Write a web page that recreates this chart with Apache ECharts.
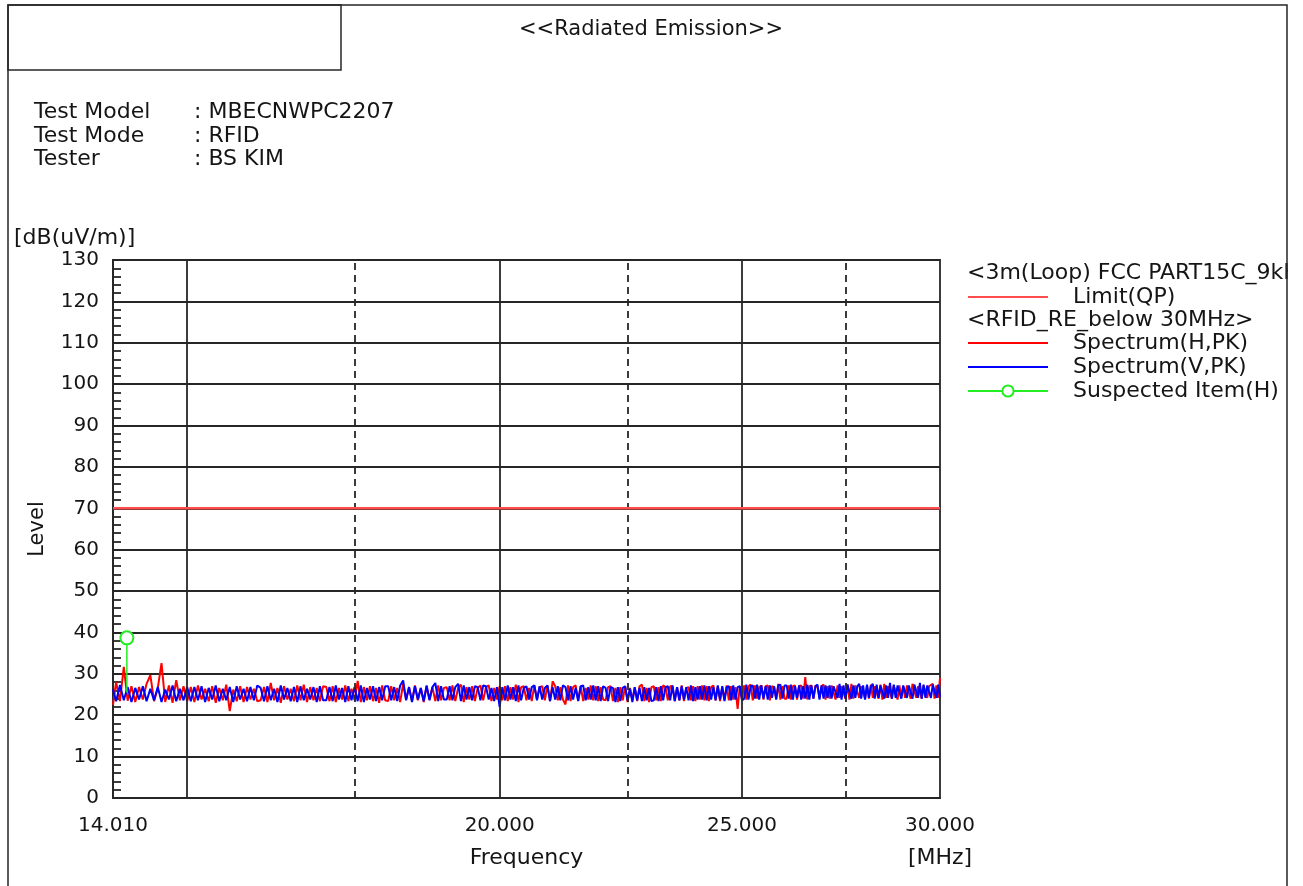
<!DOCTYPE html>
<html>
<head>
<meta charset="utf-8">
<script src="https://cdn.jsdelivr.net/npm/echarts@6/dist/echarts.min.js"></script>
<style>
html, body { margin: 0; padding: 0; background: #fff; }
#main { width: 1303px; height: 886px; }
</style>
</head>
<body>
<div id="main"></div>
<script>
// sweep frequencies [MHz]
const freqMHz = [
  14.01,14.05,14.10,14.15,14.20,14.25,14.30,14.35,14.40,14.45,14.50,14.55,14.60,14.65,14.70,14.75,14.80,14.85,14.90,14.95,15.00,
  15.05,15.10,15.15,15.20,15.25,15.30,15.35,15.40,15.45,15.50,15.55,15.60,15.65,15.70,15.75,15.80,15.85,15.90,15.95,16.00,
  16.05,16.10,16.15,16.20,16.25,16.30,16.35,16.40,16.45,16.50,16.55,16.60,16.65,16.70,16.75,16.80,16.85,16.90,16.95,17.00,
  17.05,17.10,17.15,17.20,17.25,17.30,17.35,17.40,17.45,17.50,17.55,17.60,17.65,17.70,17.75,17.80,17.85,17.90,17.95,18.00,
  18.05,18.10,18.15,18.20,18.25,18.30,18.35,18.40,18.45,18.50,18.55,18.60,18.65,18.70,18.75,18.80,18.85,18.90,18.95,19.00,
  19.05,19.10,19.15,19.20,19.25,19.30,19.35,19.40,19.45,19.50,19.55,19.60,19.65,19.70,19.75,19.80,19.85,19.90,19.95,20.00,
  20.05,20.10,20.15,20.20,20.25,20.30,20.35,20.40,20.45,20.50,20.55,20.60,20.65,20.70,20.75,20.80,20.85,20.90,20.95,21.00,
  21.05,21.10,21.15,21.20,21.25,21.30,21.35,21.40,21.45,21.50,21.55,21.60,21.65,21.70,21.75,21.80,21.85,21.90,21.95,22.00,
  22.05,22.10,22.15,22.20,22.25,22.30,22.35,22.40,22.45,22.50,22.55,22.60,22.65,22.70,22.75,22.80,22.85,22.90,22.95,23.00,
  23.05,23.10,23.15,23.20,23.25,23.30,23.35,23.40,23.45,23.50,23.55,23.60,23.65,23.70,23.75,23.80,23.85,23.90,23.95,24.00,
  24.05,24.10,24.15,24.20,24.25,24.30,24.35,24.40,24.45,24.50,24.55,24.60,24.65,24.70,24.75,24.80,24.85,24.90,24.95,25.00,
  25.05,25.10,25.15,25.20,25.25,25.30,25.35,25.40,25.45,25.50,25.55,25.60,25.65,25.70,25.75,25.80,25.85,25.90,25.95,26.00,
  26.05,26.10,26.15,26.20,26.25,26.30,26.35,26.40,26.45,26.50,26.55,26.60,26.65,26.70,26.75,26.80,26.85,26.90,26.95,27.00,
  27.05,27.10,27.15,27.20,27.25,27.30,27.35,27.40,27.45,27.50,27.55,27.60,27.65,27.70,27.75,27.80,27.85,27.90,27.95,28.00,
  28.05,28.10,28.15,28.20,28.25,28.30,28.35,28.40,28.45,28.50,28.55,28.60,28.65,28.70,28.75,28.80,28.85,28.90,28.95,29.00,
  29.05,29.10,29.15,29.20,29.25,29.30,29.35,29.40,29.45,29.50,29.55,29.60,29.65,29.70,29.75,29.80,29.85,29.90,29.95,30.00
];

// Spectrum(H,PK) [dB(uV/m)]
const levelH = [
  22.5,28.0,23.4,31.7,23.5,27.0,23.2,26.8,23.8,27.6,29.7,23.4,26.6,32.6,23.2,27.2,23.0,28.5,23.6,27.0,23.4,
  26.8,23.2,27.2,23.8,26.4,23.4,27.0,23.0,26.6,23.6,27.4,21.0,26.2,23.4,27.0,23.2,26.8,23.8,26.4,23.4,
  23.6,26.8,23.2,27.8,23.6,26.6,23.0,27.0,23.8,26.4,23.4,27.2,23.6,27.4,23.2,26.8,23.6,26.6,23.4,27.0,
  26.8,23.4,27.0,23.2,26.6,23.8,27.2,23.4,26.4,23.6,28.3,23.2,26.8,23.6,27.0,23.4,26.6,23.0,27.2,23.6,
  23.4,27.0,23.6,26.6,23.2,27.6,23.8,26.8,23.4,27.2,23.6,26.6,23.2,27.0,23.8,26.8,23.4,27.2,23.6,26.6,
  26.8,23.6,27.2,23.4,26.6,27.4,23.2,26.8,23.8,27.0,23.4,26.6,27.2,23.6,26.8,27.2,23.4,26.6,23.8,27.0,
  23.6,27.0,23.4,26.8,23.8,27.4,23.2,26.8,27.0,23.6,26.6,23.4,27.2,23.8,26.8,27.0,23.6,27.2,23.4,28.2,
  27.0,23.6,26.8,23.8,22.6,27.2,23.4,26.8,27.2,23.6,27.0,23.4,26.6,23.8,27.2,23.6,27.0,23.4,26.8,23.8,
  23.6,26.8,27.0,23.4,26.6,23.2,26.8,23.6,27.0,23.2,26.6,23.6,26.8,23.4,27.0,27.4,23.4,26.6,23.2,26.8,
  27.0,23.6,26.8,23.4,27.2,26.8,23.6,27.0,27.0,23.4,26.8,23.6,27.2,23.4,26.6,26.8,23.6,27.0,23.4,27.0,
  23.8,27.2,23.6,27.0,23.4,26.8,27.2,23.6,27.0,23.4,26.8,23.8,27.2,23.6,27.0,23.8,26.8,21.5,27.0,23.8,
  27.2,23.8,27.0,27.4,23.6,27.2,24.0,26.8,27.2,23.8,27.0,27.2,23.6,27.0,26.8,24.0,27.6,23.8,27.0,24.0,
  24.0,27.2,23.8,27.0,27.2,23.8,27.0,27.2,24.0,29.2,23.8,27.0,27.2,24.0,27.2,26.8,24.2,27.0,27.4,23.8,
  27.0,24.0,27.2,27.4,23.8,27.2,24.2,27.0,27.2,24.0,27.4,23.8,27.6,24.0,27.2,26.8,24.2,27.0,27.4,24.0,
  27.2,24.0,27.4,24.2,27.0,27.2,24.0,27.4,23.8,27.6,24.2,27.0,27.4,24.0,27.2,27.4,23.8,27.2,24.2,27.0,
  24.2,27.2,27.4,24.0,27.6,27.2,24.2,27.0,27.4,24.0,27.2,27.6,24.2,27.0,27.4,27.6,24.0,27.2,24.2,29.0
];

// Spectrum(V,PK) [dB(uV/m)]
const levelV = [
  26.2,23.4,27.3,23.6,26.8,23.2,26.6,23.8,27.0,23.4,26.4,23.6,26.8,23.2,26.2,23.8,27.2,23.4,26.4,23.6,26.8,
  23.4,26.8,23.6,27.0,23.2,26.6,23.8,27.2,23.4,26.4,23.6,26.8,23.2,27.0,23.8,26.4,23.4,26.8,23.6,27.2,
  26.6,23.4,27.0,23.6,26.4,23.2,27.2,23.8,26.6,23.4,26.8,23.2,27.0,23.6,26.4,23.8,26.8,23.2,27.0,23.6,
  23.6,26.8,23.4,27.2,23.8,26.6,23.2,27.0,23.6,26.8,23.4,27.2,23.2,26.6,23.8,27.0,23.4,26.8,23.6,27.0,
  27.0,23.6,26.8,23.4,27.2,28.4,23.6,26.8,23.2,27.0,23.8,26.6,23.4,27.2,23.6,26.8,27.8,23.4,27.0,23.8,
  23.8,27.0,23.6,26.8,27.6,23.4,27.2,23.8,26.8,23.6,27.0,26.8,23.6,27.2,27.0,23.8,26.6,23.4,26.8,22.0,
  26.8,23.6,27.2,23.8,26.8,23.4,27.2,23.6,26.6,27.0,23.8,26.8,27.2,23.6,27.0,23.8,26.6,27.2,23.4,26.8,
  23.8,27.0,23.6,27.2,26.8,23.6,27.0,23.8,26.6,23.4,27.0,27.2,23.6,26.8,23.8,27.2,23.6,27.0,23.4,27.0,
  26.6,23.4,26.8,26.6,23.2,26.8,23.4,26.6,27.0,23.6,26.4,23.2,26.8,23.6,26.6,23.4,26.8,23.6,26.6,23.4,
  23.6,26.8,23.4,27.0,23.6,26.8,27.0,23.6,27.2,23.4,26.8,23.6,27.0,23.8,26.8,23.6,27.2,23.4,26.8,23.8,
  27.0,23.8,27.2,23.6,27.0,23.8,26.8,23.6,27.2,23.8,27.0,23.4,26.8,27.0,23.6,27.2,23.8,26.8,27.0,23.6,
  24.0,27.4,23.8,27.0,27.2,24.0,27.4,23.8,27.2,24.0,27.0,23.8,27.2,24.2,27.0,23.8,27.2,27.4,24.0,27.2,
  27.2,24.0,27.4,23.8,27.0,24.2,27.2,23.8,27.0,24.0,27.4,23.8,27.2,24.0,27.0,27.4,23.8,27.2,24.0,27.2,
  24.2,27.2,24.0,27.0,27.4,24.2,27.6,23.8,27.2,24.0,27.4,27.0,24.0,27.2,24.2,27.0,27.6,24.0,27.2,23.8,
  27.4,24.2,27.0,27.6,24.0,27.4,24.2,27.2,27.6,24.0,27.2,24.2,27.8,24.0,27.4,24.2,27.2,27.6,24.0,27.2,
  27.4,24.2,27.2,27.6,24.0,27.4,27.2,24.2,27.8,24.0,27.4,24.2,27.2,27.6,24.2,27.4,27.0,24.2,27.4,24.4
];

// Limit(QP)
const limitFreq = [14.01, 30.0];
const limitLevel = [70, 70];

// Suspected Item(H): marker level and stem foot
const suspectFreq = 14.19;
const suspectLevel = 38.7;
const suspectFoot = 25.5;

// frequency axis grid / labels
const gridSolid = [15, 20, 25];
const gridDashed = [17.5, 22.5, 27.5];
const freqTicks = [14.01, 20, 25, 30];

const levelTicks = { min: 0, max: 130, interval: 10 };

const FONT = 'DejaVu Sans';
const TXT = '#151515';
const LINE = '#262626';
const F22 = '22px "DejaVu Sans"';

const vGrid = [];
gridSolid.forEach(v => vGrid.push({ xAxis: v, lineStyle: { type: 'solid' } }));
gridDashed.forEach(v => vGrid.push({ xAxis: v, lineStyle: { type: [7, 5] } }));
freqTicks.forEach(v => vGrid.push({
  xAxis: v,
  lineStyle: { color: 'rgba(0,0,0,0)' },
  label: {
    show: true, position: 'start', distance: 18,
    fontFamily: FONT, fontSize: 20, color: TXT,
    formatter: v.toFixed(3)
  }
}));

const chart = echarts.init(document.getElementById('main'));

function legendAt(name, y, hideDot) {
  const lg = {
    data: [name],
    left: 967,
    top: y,
    padding: 0,
    itemWidth: 80,
    itemHeight: 14,
    selectedMode: false,
    textStyle: { fontFamily: FONT, fontSize: 22, color: TXT, padding: [0, 0, 0, 20] }
  };
  if (hideDot) lg.itemStyle = { opacity: 0 };
  return lg;
}

const option = {
  animation: false,
  backgroundColor: '#fff',
  title: {
    text: '<<Radiated Emission>>',
    left: 514,
    top: 14,
    textStyle: { fontFamily: FONT, fontSize: 21, fontWeight: 'normal', color: TXT }
  },
  legend: [
    legendAt('Limit(QP)', 286, true),
    legendAt('Spectrum(H,PK)', 332, true),
    legendAt('Spectrum(V,PK)', 356, true),
    legendAt('Suspected Item(H)', 380, false)
  ],
  grid: {
    left: 113, top: 260, width: 827, height: 538,
    show: true, borderColor: LINE, borderWidth: 1.8
  },
  xAxis: {
    type: 'log',
    logBase: 10,
    min: 14.01,
    max: 30,
    name: 'Frequency',
    nameLocation: 'middle',
    nameGap: 49,
    nameTextStyle: { fontFamily: FONT, fontSize: 22, color: TXT },
    axisLine: { lineStyle: { color: LINE, width: 1.8 } },
    axisTick: { show: false },
    axisLabel: { show: false },
    splitLine: { show: false },
    minorTick: { show: false },
    minorSplitLine: { show: false }
  },
  yAxis: {
    type: 'value',
    min: levelTicks.min,
    max: levelTicks.max,
    interval: levelTicks.interval,
    name: 'Level',
    nameLocation: 'middle',
    nameGap: 65,
    nameRotate: 90,
    nameTextStyle: { fontFamily: FONT, fontSize: 21, color: TXT },
    axisLine: { show: true, lineStyle: { color: LINE, width: 1.8 } },
    axisTick: { show: true, inside: true, length: 8, lineStyle: { color: LINE, width: 1.8 } },
    minorTick: { show: true, splitNumber: 5, length: 8, lineStyle: { color: LINE, width: 1.8 } },
    axisLabel: { fontFamily: FONT, fontSize: 20, color: TXT, margin: 14 },
    splitLine: { show: true, lineStyle: { color: LINE, width: 1.8 } }
  },
  graphic: [
    { type: 'text', x: 14, y: 238, style: { text: '[dB(uV/m)]', font: F22, fill: TXT, verticalAlign: 'middle' } },
    { type: 'text', x: 940, y: 858, style: { text: '[MHz]', font: F22, fill: TXT, align: 'center', verticalAlign: 'middle' } },
    { type: 'text', x: 34, y: 112, style: { text: 'Test Model', font: F22, fill: TXT, verticalAlign: 'middle' } },
    { type: 'text', x: 34, y: 136, style: { text: 'Test Mode', font: F22, fill: TXT, verticalAlign: 'middle' } },
    { type: 'text', x: 34, y: 159, style: { text: 'Tester', font: F22, fill: TXT, verticalAlign: 'middle' } },
    { type: 'text', x: 194, y: 112, style: { text: ': MBECNWPC2207', font: F22, fill: TXT, verticalAlign: 'middle' } },
    { type: 'text', x: 194, y: 136, style: { text: ': RFID', font: F22, fill: TXT, verticalAlign: 'middle' } },
    { type: 'text', x: 194, y: 159, style: { text: ': BS KIM', font: F22, fill: TXT, verticalAlign: 'middle' } },
    { type: 'text', x: 967, y: 273, style: { text: '<3m(Loop) FCC PART15C_9kHz-30MHz>', font: F22, fill: TXT, verticalAlign: 'middle' } },
    { type: 'text', x: 967, y: 320, style: { text: '<RFID_RE_below 30MHz>', font: F22, fill: TXT, verticalAlign: 'middle' } },
    { type: 'rect', z: 100, shape: { x: 1288, y: 0, width: 20, height: 886 }, style: { fill: '#fff' } },
    { type: 'rect', z: 101, shape: { x: 8, y: 5, width: 1279, height: 900 }, style: { fill: 'none', stroke: LINE, lineWidth: 1.5 } },
    { type: 'rect', z: 101, shape: { x: 8, y: 5, width: 333, height: 65 }, style: { fill: 'none', stroke: LINE, lineWidth: 1.5 } }
  ],
  series: [
    {
      name: 'grid',
      type: 'line',
      data: [],
      z: 1,
      silent: true,
      markLine: {
        silent: true,
        symbol: ['none', 'none'],
        lineStyle: { color: LINE, width: 1.8 },
        label: { show: false },
        data: vGrid
      }
    },
    {
      name: 'Spectrum(H,PK)',
      type: 'line',
      z: 3,
      showSymbol: false,
      symbol: 'none',
      color: '#ff0000',
      lineStyle: { color: '#ff0000', width: 2 },
      data: freqMHz.map((f, i) => [f, levelH[i]])
    },
    {
      name: 'Spectrum(V,PK)',
      type: 'line',
      z: 4,
      showSymbol: false,
      symbol: 'none',
      color: '#0000ff',
      lineStyle: { color: '#0000ff', width: 2 },
      data: freqMHz.map((f, i) => [f, levelV[i]])
    },
    {
      name: 'Limit(QP)',
      type: 'line',
      z: 5,
      symbol: 'none',
      color: '#ff4d4d',
      lineStyle: { color: '#ff4d4d', width: 2.5 },
      data: limitFreq.map((f, i) => [f, limitLevel[i]])
    },
    {
      name: 'Suspected Item(H)',
      type: 'line',
      z: 6,
      symbol: 'emptyCircle',
      symbolSize: 13,
      color: '#22ee22',
      itemStyle: { color: '#22ee22', borderWidth: 1.5 },
      lineStyle: { color: '#22ee22', width: 1.5 },
      data: [
        { value: [suspectFreq, suspectFoot], symbol: 'none' },
        { value: [suspectFreq, suspectLevel] }
      ]
    }
  ]
};

chart.setOption(option);
</script>
</body>
</html>
